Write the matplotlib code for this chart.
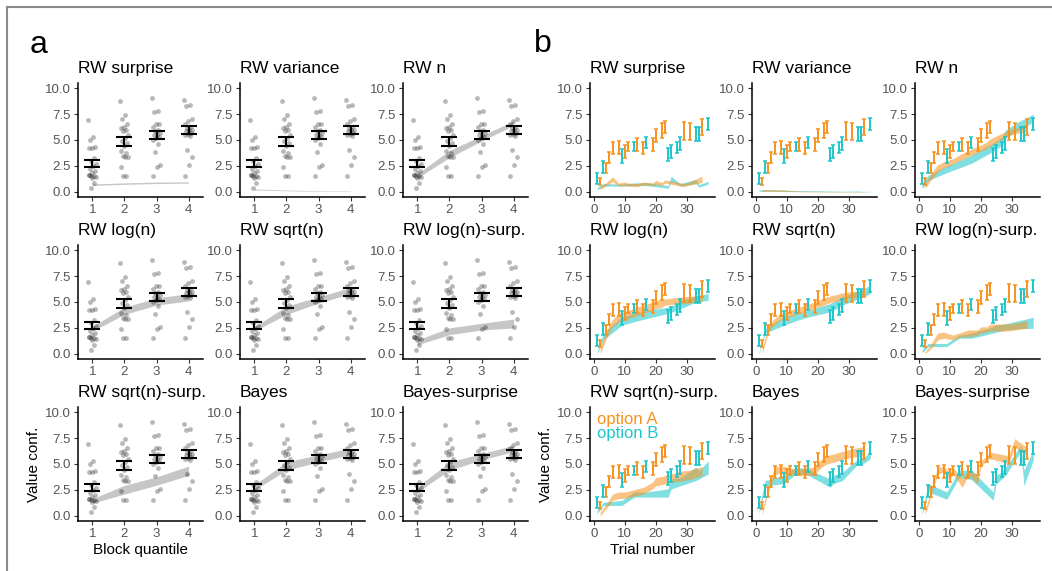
import numpy as np
import matplotlib
matplotlib.use("Agg")
import matplotlib.pyplot as plt
from matplotlib.lines import Line2D

plt.rcParams['font.family'] = ['Liberation Sans', 'DejaVu Sans']

# ---------------- data ----------------
MODELS = ["RW surprise", "RW variance", "RW n",
          "RW log(n)", "RW sqrt(n)", "RW log(n)-surp.",
          "RW sqrt(n)-surp.", "Bayes", "Bayes-surprise"]

# Panel a: subject points per block quantile
QUANTILES = [1, 2, 3, 4]
Q1_PTS = [6.9, 5.25, 5.0, 4.3, 4.2, 4.25, 3.3, 3.0, 2.7, 2.5, 2.2, 2.0, 1.8, 1.6, 1.5, 1.5, 1.4, 1.3, 1.6, 0.85, 0.4]
Q2_PTS = [8.8, 7.4, 7.0, 6.5, 6.3, 6.2, 6.0, 5.9, 5.5, 5.2, 4.9, 4.7, 4.4, 3.9, 3.7, 3.5, 3.4, 3.4, 2.4, 1.5, 1.5]
Q3_PTS = [9.1, 7.8, 7.7, 6.5, 6.5, 6.3, 6.0, 5.9, 5.7, 5.5, 5.5, 5.3, 5.2, 5.0, 4.6, 3.8, 2.6, 2.4, 1.5]
Q4_PTS = [8.9, 8.4, 8.3, 7.0, 6.8, 6.5, 6.3, 6.2, 6.0, 6.0, 5.9, 5.7, 5.6, 5.5, 5.4, 4.0, 3.4, 2.6, 1.5]
A_MEAN = [2.75, 4.85, 5.5, 5.98]
A_LO = [2.4, 4.45, 5.1, 5.58]
A_HI = [3.1, 5.25, 5.9, 6.38]

# Panel a: model ribbons (lo, hi) at quantiles 1..4
RA_RW_SURPRISE_LO = [0.62, 0.72, 0.8, 0.84]
RA_RW_SURPRISE_HI = [0.76, 0.86, 0.94, 0.96]
RA_RW_VARIANCE_LO = [0.18, 0.1, 0.05, 0.03]
RA_RW_VARIANCE_HI = [0.28, 0.17, 0.1, 0.07]
RA_RW_N_LO = [1.35, 3.3, 4.9, 6.4]
RA_RW_N_HI = [1.75, 4.0, 5.4, 6.85]
RA_RW_LOGN_LO = [2.2, 3.8, 4.7, 5.1]
RA_RW_LOGN_HI = [2.65, 4.5, 5.4, 5.8]
RA_RW_SQRTN_LO = [2.2, 3.8, 4.9, 5.8]
RA_RW_SQRTN_HI = [2.6, 4.6, 5.5, 6.4]
RA_RW_LOGN_SURP_LO = [0.87, 1.85, 2.3, 2.5]
RA_RW_LOGN_SURP_HI = [1.35, 2.5, 2.95, 3.35]
RA_RW_SQRTN_SURP_LO = [1.23, 2.1, 2.95, 3.9]
RA_RW_SQRTN_SURP_HI = [1.65, 2.95, 3.75, 4.8]
RA_BAYES_LO = [2.5, 4.4, 5.2, 5.9]
RA_BAYES_HI = [3.0, 5.2, 5.9, 6.5]
RA_BAYES_SURP_LO = [2.3, 4.4, 5.4, 6.2]
RA_BAYES_SURP_HI = [2.8, 5.2, 6.0, 6.8]

# Panel b: trials where each option was rated, with error bars (lo, hi)
TRIALS_A = [2, 4, 5, 6, 8, 10, 11, 14, 16, 19, 20, 22, 23, 29, 31, 35]
ERR_A_LO = [0.65, 1.8, 2.75, 3.65, 3.65, 3.3, 3.9, 3.9, 3.65, 3.9, 4.85, 5.15, 5.65, 5.0, 5.0, 5.5]
ERR_A_HI = [1.35, 2.8, 3.8, 4.85, 4.9, 4.5, 4.85, 5.15, 4.85, 5.2, 6.1, 6.6, 6.85, 6.75, 6.6, 7.0]
TRIALS_B = [1, 3, 9, 13, 17, 24, 25, 27, 28, 33, 34, 37]
ERR_B_LO = [0.8, 1.8, 2.8, 3.9, 4.2, 3.0, 3.25, 3.7, 4.0, 4.95, 4.95, 5.95]
ERR_B_HI = [1.8, 3.0, 4.1, 4.85, 5.3, 4.2, 4.5, 4.85, 5.25, 6.3, 6.3, 7.1]

# Panel b: model ribbons, option A (at TRIALS_A) and option B (at TRIALS_B)
RB_RW_SURPRISE_A_LO = [0.2, 0.6, 0.8, 1.0, 0.55, 0.6, 0.55, 0.5, 0.65, 0.6, 0.7, 0.6, 0.85, 0.5, 0.65, 0.9]
RB_RW_SURPRISE_A_HI = [0.5, 0.9, 1.2, 1.45, 0.85, 0.95, 0.85, 0.8, 0.95, 0.85, 1.1, 0.9, 1.15, 0.8, 0.95, 1.5]
RB_RW_SURPRISE_B_LO = [0.2, 0.55, 0.55, 0.6, 0.6, 0.35, 0.95, 0.75, 0.55, 0.8, 0.45, 0.75]
RB_RW_SURPRISE_B_HI = [0.4, 0.8, 0.75, 0.85, 0.9, 0.6, 1.5, 1.0, 0.8, 1.2, 0.7, 1.0]

RB_RW_VARIANCE_A_LO = [0.02, 0.05, 0.05, 0.05, 0.04, 0.03, 0.02, 0.01, 0.0, 0.0, 0.0, 0.0, 0.0, 0.0, 0.0, 0.0]
RB_RW_VARIANCE_A_HI = [0.22, 0.22, 0.22, 0.2, 0.18, 0.15, 0.12, 0.08, 0.06, 0.05, 0.05, 0.04, 0.04, 0.03, 0.03, 0.03]
RB_RW_VARIANCE_B_LO = [0.05, 0.05, 0.05, 0.03, 0.02, 0.0, 0.0, 0.0, 0.0, 0.0, 0.0, 0.0]
RB_RW_VARIANCE_B_HI = [0.2, 0.2, 0.18, 0.12, 0.1, 0.08, 0.07, 0.06, 0.05, 0.08, 0.05, 0.04]

RB_RW_N_A_LO = [0.3, 1.2, 1.5, 1.9, 2.3, 2.5, 2.7, 3.1, 3.4, 3.8, 3.9, 4.2, 4.4, 5.4, 5.6, 5.8]
RB_RW_N_A_HI = [0.8, 1.8, 2.2, 2.6, 2.9, 3.1, 3.2, 3.7, 4.0, 4.4, 4.5, 4.8, 5.1, 5.95, 6.1, 6.6]
RB_RW_N_B_LO = [0.3, 1.1, 1.85, 2.3, 2.75, 3.9, 4.1, 4.5, 5.2, 6.1, 6.2, 6.75]
RB_RW_N_B_HI = [0.7, 1.6, 2.5, 3.0, 3.55, 4.7, 4.9, 5.3, 5.95, 6.9, 7.0, 7.5]

RB_RW_LOGN_A_LO = [0.0, 1.5, 2.1, 2.6, 3.1, 3.3, 3.4, 3.7, 3.9, 4.2, 4.35, 4.5, 4.7, 4.85, 4.9, 5.0]
RB_RW_LOGN_A_HI = [0.7, 2.1, 2.9, 3.3, 3.9, 4.1, 4.2, 4.5, 4.7, 5.0, 5.15, 5.25, 5.3, 5.5, 5.55, 5.65]
RB_RW_LOGN_B_LO = [0.0, 1.35, 2.75, 3.1, 3.4, 3.9, 4.0, 4.2, 4.35, 5.0, 5.05, 5.15]
RB_RW_LOGN_B_HI = [0.2, 2.0, 3.55, 3.9, 4.2, 4.5, 4.6, 4.9, 5.15, 5.6, 5.65, 5.8]

RB_RW_SQRTN_A_LO = [0.0, 2.1, 2.5, 2.8, 3.25, 3.5, 3.6, 3.9, 4.1, 4.4, 4.5, 4.7, 4.85, 5.3, 5.4, 5.5]
RB_RW_SQRTN_A_HI = [0.55, 2.75, 3.1, 3.4, 3.9, 4.1, 4.2, 4.5, 4.7, 5.0, 5.15, 5.35, 5.5, 5.95, 6.0, 6.1]
RB_RW_SQRTN_B_LO = [0.0, 2.0, 2.75, 3.2, 3.55, 4.05, 4.2, 4.5, 4.7, 5.3, 5.4, 5.8]
RB_RW_SQRTN_B_HI = [0.2, 2.45, 3.55, 3.9, 4.2, 4.85, 5.0, 5.3, 5.5, 6.1, 6.2, 6.6]

RB_RW_LOGN_SURP_A_LO = [0.0, 0.55, 0.9, 1.35, 1.5, 1.4, 1.35, 1.65, 1.65, 1.8, 2.0, 2.1, 2.2, 2.2, 2.3, 2.45]
RB_RW_LOGN_SURP_A_HI = [0.2, 1.0, 1.5, 2.0, 2.1, 1.9, 1.8, 2.1, 2.3, 2.3, 2.6, 2.6, 2.85, 2.9, 2.95, 3.2]
RB_RW_LOGN_SURP_B_LO = [0.1, 0.7, 0.7, 1.5, 1.5, 2.0, 2.1, 2.2, 2.3, 2.45, 2.45, 2.45]
RB_RW_LOGN_SURP_B_HI = [0.4, 1.0, 1.0, 1.8, 2.0, 2.6, 2.8, 2.85, 2.9, 3.25, 3.3, 3.55]

RB_RW_SQRTN_SURP_A_LO = [0.0, 0.7, 1.1, 1.5, 1.65, 1.7, 1.75, 1.95, 2.1, 2.6, 2.9, 3.0, 3.1, 3.4, 3.5, 3.9]
RB_RW_SQRTN_SURP_A_HI = [0.35, 1.15, 1.6, 2.1, 2.3, 2.3, 2.35, 2.6, 2.75, 3.25, 3.7, 3.8, 3.9, 4.35, 4.4, 4.75]
RB_RW_SQRTN_SURP_B_LO = [0.2, 1.0, 1.0, 1.8, 1.8, 1.8, 2.6, 2.8, 2.9, 3.4, 3.55, 4.05]
RB_RW_SQRTN_SURP_B_HI = [0.5, 1.3, 1.5, 2.3, 2.3, 2.6, 3.55, 3.65, 3.7, 4.7, 4.35, 5.3]

RB_BAYES_A_LO = [0.15, 2.3, 3.1, 3.9, 4.2, 4.05, 4.0, 3.9, 3.9, 3.9, 4.35, 4.85, 5.0, 5.5, 5.65, 5.8]
RB_BAYES_A_HI = [0.65, 2.75, 3.8, 4.7, 4.85, 4.7, 4.6, 4.5, 4.6, 4.7, 5.15, 5.65, 5.8, 6.3, 6.45, 6.7]
RB_BAYES_B_LO = [0.2, 2.9, 3.1, 4.05, 3.9, 2.75, 3.1, 3.3, 3.4, 5.0, 4.9, 5.5]
RB_BAYES_B_HI = [0.85, 3.4, 3.9, 4.7, 4.5, 3.55, 3.9, 4.1, 4.2, 5.5, 5.4, 6.15]

RB_BAYES_SURP_A_LO = [0.15, 1.95, 3.0, 4.05, 4.2, 3.4, 4.05, 2.75, 3.9, 3.1, 4.7, 5.35, 5.5, 5.05, 6.6, 5.8]
RB_BAYES_SURP_A_HI = [0.7, 2.45, 3.6, 4.7, 4.75, 4.2, 4.7, 3.6, 4.4, 4.0, 5.3, 5.8, 6.15, 5.8, 7.45, 6.6]
RB_BAYES_SURP_B_LO = [0.1, 2.3, 1.6, 3.7, 3.5, 1.5, 3.1, 3.6, 3.9, 6.2, 2.9, 5.35]
RB_BAYES_SURP_B_HI = [0.5, 3.1, 2.3, 4.4, 4.4, 2.3, 3.9, 4.3, 4.7, 6.8, 4.4, 6.3]

RIBBONS_A = [(RA_RW_SURPRISE_LO, RA_RW_SURPRISE_HI), (RA_RW_VARIANCE_LO, RA_RW_VARIANCE_HI),
             (RA_RW_N_LO, RA_RW_N_HI), (RA_RW_LOGN_LO, RA_RW_LOGN_HI),
             (RA_RW_SQRTN_LO, RA_RW_SQRTN_HI), (RA_RW_LOGN_SURP_LO, RA_RW_LOGN_SURP_HI),
             (RA_RW_SQRTN_SURP_LO, RA_RW_SQRTN_SURP_HI), (RA_BAYES_LO, RA_BAYES_HI),
             (RA_BAYES_SURP_LO, RA_BAYES_SURP_HI)]
RIBBONS_B = [
    (RB_RW_SURPRISE_A_LO, RB_RW_SURPRISE_A_HI, RB_RW_SURPRISE_B_LO, RB_RW_SURPRISE_B_HI),
    (RB_RW_VARIANCE_A_LO, RB_RW_VARIANCE_A_HI, RB_RW_VARIANCE_B_LO, RB_RW_VARIANCE_B_HI),
    (RB_RW_N_A_LO, RB_RW_N_A_HI, RB_RW_N_B_LO, RB_RW_N_B_HI),
    (RB_RW_LOGN_A_LO, RB_RW_LOGN_A_HI, RB_RW_LOGN_B_LO, RB_RW_LOGN_B_HI),
    (RB_RW_SQRTN_A_LO, RB_RW_SQRTN_A_HI, RB_RW_SQRTN_B_LO, RB_RW_SQRTN_B_HI),
    (RB_RW_LOGN_SURP_A_LO, RB_RW_LOGN_SURP_A_HI, RB_RW_LOGN_SURP_B_LO, RB_RW_LOGN_SURP_B_HI),
    (RB_RW_SQRTN_SURP_A_LO, RB_RW_SQRTN_SURP_A_HI, RB_RW_SQRTN_SURP_B_LO, RB_RW_SQRTN_SURP_B_HI),
    (RB_BAYES_A_LO, RB_BAYES_A_HI, RB_BAYES_B_LO, RB_BAYES_B_HI),
    (RB_BAYES_SURP_A_LO, RB_BAYES_SURP_A_HI, RB_BAYES_SURP_B_LO, RB_BAYES_SURP_B_HI),
]

# ---------------- style ----------------
W, H = 1052, 571
ORANGE = '#F7931E'
CYAN = '#1CC6CA'
COL_A_LEFT = [78, 240, 403]
COL_B_LEFT = [590, 752, 915]
ROW_TOP = [83, 245, 407]
AX_W, AX_H = 125, 114
YTICKS = [0, 2.5, 5, 7.5, 10]
YTICKLABELS = ["0.0", "2.5", "5.0", "7.5", "10.0"]

fig = plt.figure(figsize=(W / 100, H / 100), dpi=100)


def make_ax(left, top):
    ax = fig.add_axes([left / W, 1 - (top + AX_H) / H, AX_W / W, AX_H / H])
    for s in ['top', 'right']:
        ax.spines[s].set_visible(False)
    for s in ['left', 'bottom']:
        ax.spines[s].set_linewidth(1.1)
        ax.spines[s].set_color('black')
    ax.tick_params(length=3, width=0.8, color='#333333', labelcolor='#555555',
                   labelsize=9.5, pad=2)
    ax.set_ylim(-0.5, 10.5)
    ax.set_yticks(YTICKS)
    ax.set_yticklabels(YTICKLABELS)
    return ax


pts = [Q1_PTS, Q2_PTS, Q3_PTS, Q4_PTS]

for i, name in enumerate(MODELS):
    r, c = divmod(i, 3)
    # ---- panel a
    ax = make_ax(COL_A_LEFT[c], ROW_TOP[r])
    ax.set_xlim(0.55, 4.45)
    ax.set_xticks(QUANTILES)
    lo, hi = RIBBONS_A[i]
    ax.fill_between(QUANTILES, lo, hi, color='#C6C6C6', lw=0, zorder=1)
    for q, vals in zip(QUANTILES, pts):
        n = len(vals)
        jit = ((np.arange(n) * 0.6180339) % 1.0 - 0.5) * 0.26
        ax.scatter(q + jit, vals, s=12, color='black', alpha=0.28, lw=0, zorder=2)
    m = np.array(A_MEAN)
    ax.errorbar(QUANTILES, m, yerr=[m - np.array(A_LO), np.array(A_HI) - m], fmt='none',
                ecolor='black', elinewidth=1.5, capsize=6, capthick=1.5, zorder=3)
    ax.set_title(name, loc='left', fontsize=12.5, pad=7)
    if r == 2 and c == 0:
        ax.set_ylabel("Value conf.", fontsize=11, labelpad=3)
        ax.set_xlabel("Block quantile", fontsize=11, labelpad=2)

    # ---- panel b
    ax = make_ax(COL_B_LEFT[c], ROW_TOP[r])
    ax.set_xlim(-1.3, 39.2)
    ax.set_xticks([0, 10, 20, 30])
    alo, ahi, blo, bhi = RIBBONS_B[i]
    ax.fill_between(TRIALS_B, blo, bhi, color=CYAN, alpha=0.55, lw=0, zorder=1)
    ax.fill_between(TRIALS_A, alo, ahi, color=ORANGE, alpha=0.55, lw=0, zorder=1)
    ea_lo, ea_hi = np.array(ERR_A_LO), np.array(ERR_A_HI)
    eb_lo, eb_hi = np.array(ERR_B_LO), np.array(ERR_B_HI)
    ax.errorbar(TRIALS_A, (ea_lo + ea_hi) / 2, yerr=(ea_hi - ea_lo) / 2, fmt='none',
                ecolor=ORANGE, elinewidth=1.4, capsize=1.4, capthick=1.1, zorder=3)
    ax.errorbar(TRIALS_B, (eb_lo + eb_hi) / 2, yerr=(eb_hi - eb_lo) / 2, fmt='none',
                ecolor=CYAN, elinewidth=1.4, capsize=1.4, capthick=1.1, zorder=3)
    ax.set_title(name, loc='left', fontsize=12.5, pad=7)
    if r == 2 and c == 0:
        ax.set_ylabel("Value conf.", fontsize=11, labelpad=3)
        ax.set_xlabel("Trial number", fontsize=11, labelpad=2)
        ax.text(1.0, 9.25, "option A", color=ORANGE, fontsize=12, va='center', ha='left')
        ax.text(1.0, 7.95, "option B", color=CYAN, fontsize=12, va='center', ha='left')

fig.text(30 / W, 1 - 45 / H, "a", fontsize=23, va='center', ha='left')
fig.text(534 / W, 1 - 44 / H, "b", fontsize=23, va='center', ha='left')

# partial frame around the figure
fig.add_artist(Line2D([7 / W, 1], [1 - 7 / H, 1 - 7 / H], transform=fig.transFigure,
                      color='#8A8A8A', lw=1.5))
fig.add_artist(Line2D([7 / W, 7 / W], [0, 1 - 7 / H], transform=fig.transFigure,
                      color='#8A8A8A', lw=1.5))

fig.savefig("out.png", dpi=100, facecolor='white')
